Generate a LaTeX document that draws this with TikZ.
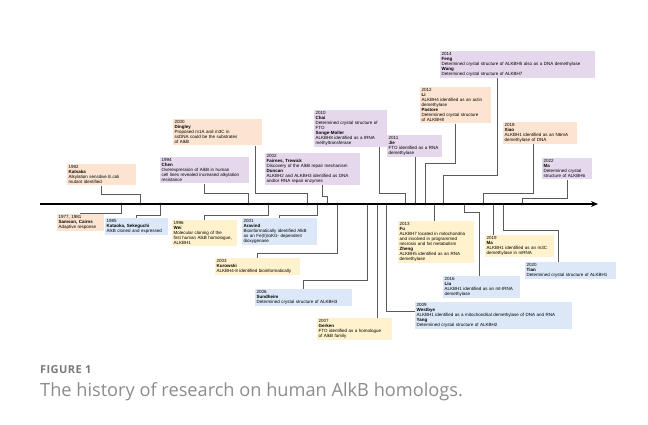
\documentclass[tikz,border=0pt]{standalone}
\usepackage{fontspec}
\setmainfont{Liberation Sans}
\newfontfamily\capfont{Open Sans}
\usepackage{xcolor}
\usepackage{tikz}
\usetikzlibrary{arrows.meta,positioning,calc}
\definecolor{evOrange}{HTML}{FCE4D0}
\definecolor{evYellow}{HTML}{FFF2CC}
\definecolor{evPurple}{HTML}{E5D8EC}
\definecolor{evBlue}{HTML}{DCE8F8}
\definecolor{linkGray}{HTML}{5A5A5A}
\definecolor{capGray}{HTML}{7A7A7A}
\definecolor{capLight}{HTML}{8C8C8C}
\newcommand{\evfont}{\fontsize{4.5}{5.0}\selectfont}

\begin{document}
\begin{tikzpicture}[
  x=1pt, y=-1pt,
  event/.style={rectangle, anchor=north west, inner sep=1.5pt, align=left, font=\evfont, text width=#1},
  early/.style={event=#1, fill=evOrange},
  gold/.style={event=#1, fill=evYellow},
  lilac/.style={event=#1, fill=evPurple},
  sky/.style={event=#1, fill=evBlue},
  link/.style={draw=linkGray, line width=0.6pt},
  timeline/.style={-{Stealth[length=7pt, width=6pt]}, line width=1.8pt, black}
]
\useasboundingbox (0,0) rectangle (648,425);

% timeline and year ticks
\coordinate (tlStart) at (40,204);
\coordinate (tlEnd) at (598,204);
\coordinate (t1977) at (121,204);
\coordinate (t1982) at (140,204);
\coordinate (t1985) at (160,204);
\coordinate (t1994) at (248,204);
\coordinate (t1996) at (268,204);
\coordinate (t2000) at (307,204);
\coordinate (t2001) at (317,204);
\coordinate (t2002) at (327,204);
\coordinate (t2003) at (337,204);
\coordinate (t2006) at (367,204);
\coordinate (t2007) at (377,204);
\coordinate (t2009) at (386,204);
\coordinate (t2010) at (405,204);
\coordinate (t2011) at (415,204);
\coordinate (t2012) at (425,204);
\coordinate (t2013) at (434,204);
\coordinate (t2014) at (443,204);
\coordinate (t2016) at (464,204);
\coordinate (t2018) at (483,204);
\coordinate (t2019) at (493,204);
\coordinate (t2020) at (503,204);
\coordinate (t2022) at (522,204);

% events above the line
\node[early=66pt] (katsaka) at (67,164) {1982\\\textbf{Katsaka}\\Alkylation sensitive E.coli\\mutant identified};
\node[lilac=86pt] (chen) at (160,157) {1994\\\textbf{Chen}\\Overexpression of AlkB in human\\cell lines revealed increased alkylation\\resistance};
\node[early=86pt] (dingley) at (173,119) {2000\\\textbf{Dingley}\\Proposed m1A and m3C in\\ssDNA could be the substrates\\of AlkB};
\node[lilac=92pt] (fairnes) at (265,153) {2002\\\textbf{Fairnes, Trewick}\\Discovery of the AlkB repair mechanism\\\textbf{Duncan}\\ALKBH2 and ALKBH3 identified as DNA\\and/or RNA repair enzymes};
\node[lilac=70pt] (chai) at (314,110) {2010\\\textbf{Chai}\\Determined crystal structure of\\FTO\\\textbf{Songe-Moller}\\ALKBH8 identified as a tRNA\\methyltransferase};
\node[lilac=52pt] (jie) at (387,135) {2011\\\textbf{Jie}\\FTO identified as a RNA\\demethylase};
\node[early=68pt] (li) at (420,87) {2012\\\textbf{Li}\\ALKBH4 identified as an actin\\demethylase\\\textbf{Pastore}\\Determined crystal structure\\of ALKBH8};
\node[lilac=152pt] (feng) at (440,51) {2014\\\textbf{Feng}\\Determined crystal structure of ALKBH5 also as a DNA demethylase\\\textbf{Wang}\\Determined crystal structure of ALKBH7};
\node[early=71pt] (xiao) at (503,122) {2018\\\textbf{Xiao}\\ALKBH1 identified as an N6mA\\demethylase of DNA};
\node[lilac=47pt] (ma22) at (542,158) {2022\\\textbf{Ma}\\Determined crystal\\structure of ALKBH6};

% events below the line
\node[early=44pt] (samson) at (57,214) {1977, 1981\\\textbf{Samson, Cairns}\\Adaptive response};
\node[sky=60pt] (kataoka) at (105,218) {1985\\\textbf{Kataoka, Sekeguchi}\\AlkB cloned and expressed};
\node[gold=62pt] (wei) at (172,220) {1996\\\textbf{Wei}\\Molecular cloning of the\\first human AlkB homologue,\\ALKBH1};
\node[sky=72pt] (aravind) at (242,218) {2001\\\textbf{Aravind}\\Bioinformatically identified AlkB\\as an Fe(II)/αKG- dependent\\dioxygenase};
\node[gold=82pt] (kurowski) at (215,258) {2003\\\textbf{Kurowski}\\ALKBH4-8 identified bioinformatically};
\node[sky=94pt] (sundheim) at (255,289) {2006\\\textbf{Sundheim}\\Determined crystal structure of ALKBH3};
\node[gold=72pt] (gerken) at (317,318) {2007\\\textbf{Gerken}\\FTO identified as a homologue\\of AlkB family};
\node[sky=154pt] (westbye) at (415,302) {2009\\\textbf{Westbye}\\ALKBH1 identified as a mitochondrial demethylase of DNA and RNA\\\textbf{Yang}\\Determined crystal structure of ALKBH2};
\node[gold=73pt] (fu) at (398,221) {2013\\\textbf{Fu}\\ALKBH7 located in mitochondria\\and involved in programmed\\necrosis and fat metabolism\\\textbf{Zheng}\\ALKBH5 identified as an RNA\\demethylase};
\node[sky=74pt] (liu) at (443,276) {2016\\\textbf{Liu}\\ALKBH1 identified as an mt-tRNA\\demethylase};
\node[gold=66pt] (ma19) at (485,235) {2019\\\textbf{Ma}\\ALKBH1 identified as an m3C\\demethylase in mRNA};
\node[sky=88pt] (tian) at (525,262) {2020\\\textbf{Tian}\\Determined crystal structure of ALKBH1};

% connectors
\draw[link] (t1977) -- ++(0,9) -| (samson.north);
\draw[link] (t1982) -- ++(0,-10) -| (katsaka.south);
\draw[link] (t1985) -- ++(0,11) -| (kataoka.north);
\draw[link] (t1994) -- ++(0,-11) -| (chen.south);
\draw[link] (t1996) -- ++(0,11) -| (wei.north);
\draw[link] (t2000) -- ++(0,-11) -| ([xshift=-7pt]dingley.south east);
\draw[link] (t2001) -- ++(0,11) -| (aravind.north);
\draw[link] (t2002) -- ++(0,-8) -| ([xshift=-38pt]fairnes.south east);
\draw[link] (t2003) -- ++(0,49) -| (kurowski.north);
\draw[link] (t2006) -- ++(0,76) -| (sundheim.north);
\draw[link] (t2007) -- (t2007 |- gerken.north);
\draw[link] (t2009) |- ([yshift=4.5pt]westbye.west);
\draw[link] (t2010) -- ++(0,-11) -| ([xshift=-8pt]chai.south east);
\draw[link] (t2011) -- (t2011 |- jie.south);
\draw[link] (t2012) -- ++(0,-41) -| ([xshift=-36pt]li.south east);
\draw[link] (t2013) -- (t2013 |- fu.north);
\draw[link] (t2014) -- ++(0,-29) -| ([xshift=-98pt]feng.south east);
\draw[link] (t2016) -- ++(0,8) -| ([xshift=-2pt]liu.north);
\draw[link] (t2018) -- ++(0,-11) -| ([xshift=-7pt]xiao.south);
\draw[link] (t2019) -- (t2019 |- ma19.north);
\draw[link] (t2020) -- ++(0,26) -| ([xshift=-12pt]tian.north);
\draw[link] (t2022) -- ++(0,-6) -| (ma22.south);

\draw[timeline] (tlStart) -- (tlEnd);
\foreach \t in {t1977,t1982,t1985,t1994,t1996,t2000,t2001,t2002,t2003,t2010,t2011,t2012,t2014,t2018,t2022}
  \fill (\t) circle (1.3pt);

% caption
\node[anchor=west, font=\capfont\fontsize{11}{13}\selectfont\bfseries\addfontfeature{LetterSpace=4}, text=capGray, inner sep=0pt] (figlabel) at (40,370) {FIGURE 1};
\node[anchor=west, font=\capfont\fontsize{18.2}{21}\selectfont, text=capLight, inner sep=0pt] (figcaption) at (40,392) {The history of research on human AlkB homologs.};
\end{tikzpicture}
\end{document}
